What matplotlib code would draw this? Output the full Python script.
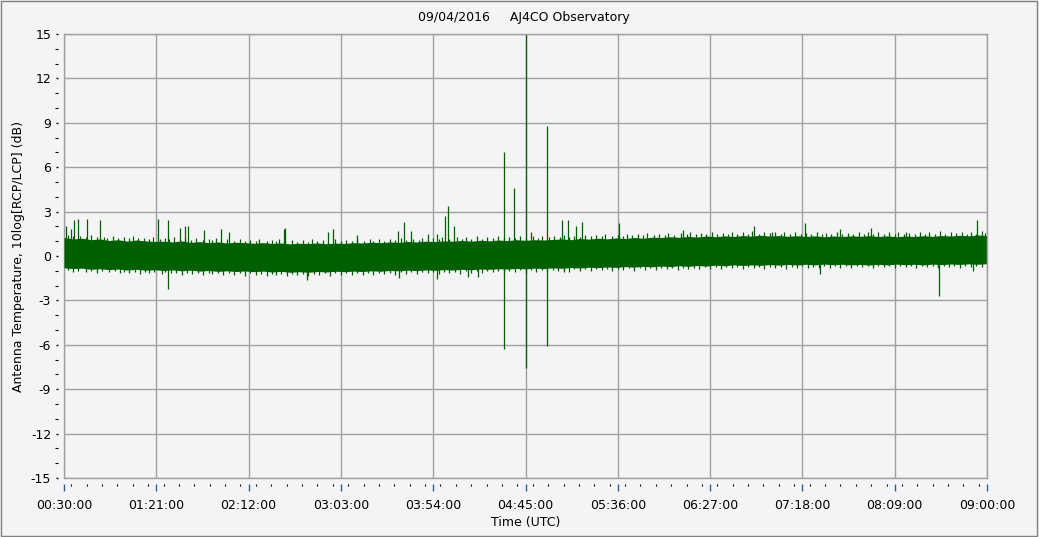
import matplotlib
matplotlib.use("Agg")
import matplotlib.pyplot as plt
from matplotlib.ticker import FuncFormatter, MultipleLocator
from matplotlib.patches import Rectangle
import numpy as np

# time in minutes after 00:00 UTC
band_t = [30, 35, 40, 45, 50, 55, 60, 65, 70, 75, 80,
          85, 90, 95, 100, 105, 110, 115, 120, 125, 130, 135,
          140, 145, 150, 155, 160, 165, 170, 175, 180, 185, 190,
          195, 200, 205, 210, 215, 220, 225, 230, 235, 240, 245,
          250, 255, 260, 265, 270, 275, 280, 285, 290, 295, 300,
          305, 310, 315, 320, 325, 330, 335, 340, 345, 350, 355,
          360, 365, 370, 375, 380, 385, 390, 395, 400, 405, 410,
          415, 420, 425, 430, 435, 440, 445, 450, 455, 460, 465,
          470, 475, 480, 485, 490, 495, 500, 505, 510, 515, 520,
          525, 530, 535, 540]
band_hi = [1.25, 1.15, 1.2, 1.1, 1.15, 1.05, 1.1, 1.0, 1.08, 1.02, 0.98,
           1.0, 0.95, 1.02, 0.92, 0.97, 0.9, 0.95, 0.88, 0.93, 0.9, 0.86,
           0.9, 0.85, 0.88, 0.82, 0.86, 0.84, 0.88, 0.83, 0.87, 0.85, 0.9,
           0.88, 0.93, 0.9, 0.95, 0.92, 0.98, 0.95, 1.0, 0.97, 1.02, 1.0,
           1.05, 1.0, 1.06, 1.02, 1.08, 1.04, 1.1, 1.06, 1.1, 1.08, 1.12,
           1.15, 1.1, 1.18, 1.14, 1.2, 1.16, 1.22, 1.18, 1.25, 1.2, 1.27,
           1.25, 1.3, 1.26, 1.32, 1.28, 1.35, 1.3, 1.36, 1.32, 1.38, 1.34,
           1.4, 1.35, 1.38, 1.33, 1.37, 1.32, 1.36, 1.3, 1.35, 1.32, 1.36,
           1.33, 1.37, 1.32, 1.36, 1.3, 1.35, 1.32, 1.37, 1.33, 1.38, 1.35,
           1.4, 1.36, 1.42, 1.38]
band_lo = [-0.8, -0.85, -0.82, -0.9, -0.86, -0.92, -0.88, -0.95, -0.9, -0.96, -0.93,
           -0.98, -0.94, -1.0, -0.96, -1.02, -0.98, -1.04, -1.0, -1.05, -1.01, -1.06,
           -1.02, -1.08, -1.04, -1.1, -1.06, -1.1, -1.05, -1.08, -1.03, -1.06, -1.02,
           -1.05, -1.0, -1.03, -0.98, -1.0, -0.96, -0.99, -0.94, -0.97, -0.92, -0.95,
           -0.9, -0.93, -0.88, -0.9, -0.86, -0.88, -0.84, -0.87, -0.82, -0.85, -0.8,
           -0.83, -0.78, -0.81, -0.76, -0.79, -0.74, -0.77, -0.72, -0.75, -0.7, -0.73,
           -0.68, -0.72, -0.66, -0.7, -0.64, -0.68, -0.62, -0.66, -0.6, -0.64, -0.6,
           -0.63, -0.58, -0.62, -0.57, -0.61, -0.56, -0.6, -0.55, -0.59, -0.56, -0.6,
           -0.57, -0.61, -0.56, -0.6, -0.55, -0.59, -0.56, -0.6, -0.55, -0.58, -0.54,
           -0.57, -0.53, -0.56, -0.52]

# small noise peaks along the edges of the band
edge_up_t = [32, 39, 45, 52, 57, 63, 68, 74, 79, 86, 91, 97, 103, 110, 114, 120,
             127, 133, 138, 145, 149, 156, 162, 167, 173, 180, 186, 192, 199, 204,
             210, 216, 223, 228, 234, 239, 247, 252, 258, 264, 270, 276, 282, 289,
             294, 301, 306, 312, 318, 324, 329, 336, 341, 347, 352, 359, 364, 371,
             376, 382, 388, 394, 399, 405, 410, 417, 423, 428, 434, 440, 446, 451,
             457, 463, 469, 474, 480, 486, 491, 497, 503, 508, 514, 520, 526, 531, 537]
edge_up_v = [1.45, 1.35, 1.4, 1.3, 1.35, 1.28, 1.32, 1.25, 1.3, 1.22, 1.27, 1.2,
             1.25, 1.15, 1.2, 1.12, 1.18, 1.1, 1.15, 1.08, 1.13, 1.1, 1.06, 1.12,
             1.08, 1.14, 1.1, 1.16, 1.12, 1.18, 1.15, 1.22, 1.18, 1.25, 1.22, 1.28,
             1.3, 1.26, 1.32, 1.28, 1.35, 1.3, 1.36, 1.33, 1.38, 1.35, 1.42, 1.38,
             1.45, 1.42, 1.48, 1.45, 1.52, 1.48, 1.55, 1.5, 1.58, 1.54, 1.6, 1.56,
             1.62, 1.58, 1.64, 1.6, 1.66, 1.62, 1.65, 1.6, 1.64, 1.58, 1.62, 1.57,
             1.63, 1.58, 1.64, 1.6, 1.65, 1.6, 1.64, 1.58, 1.63, 1.6, 1.66, 1.6,
             1.65, 1.62, 1.68]
edge_up2_t = [35, 42, 48, 54, 60, 66, 71, 77, 83, 88,
              94, 100, 107, 112, 117, 124, 130, 136, 142, 147,
              152, 159, 165, 170, 176, 183, 189, 196, 201, 207,
              213, 219, 226, 231, 237, 243, 250, 255, 261, 267,
              273, 279, 285, 292, 298, 304, 309, 315, 321, 327,
              333, 339, 344, 350, 356, 362, 367, 374, 379, 385,
              391, 397, 402, 408, 414, 420, 426, 431, 437, 443,
              449, 454, 460, 466, 472, 477, 483, 489, 494, 500,
              506, 511, 517, 523, 529, 534, 539]
edge_up2_v = [1.35, 1.3, 1.28, 1.25, 1.22, 1.2, 1.2, 1.15, 1.16, 1.12,
              1.12, 1.1, 1.08, 1.05, 1.06, 1.02, 1.03, 1.0, 0.99, 0.98,
              0.98, 0.97, 0.96, 0.98, 0.97, 0.99, 0.98, 1.0, 1.02, 1.03,
              1.05, 1.06, 1.08, 1.1, 1.12, 1.13, 1.15, 1.16, 1.18, 1.2,
              1.21, 1.22, 1.24, 1.25, 1.27, 1.28, 1.3, 1.31, 1.33, 1.34,
              1.36, 1.37, 1.39, 1.4, 1.42, 1.43, 1.45, 1.46, 1.48, 1.48,
              1.5, 1.5, 1.51, 1.52, 1.52, 1.53, 1.5, 1.52, 1.5, 1.51,
              1.49, 1.5, 1.5, 1.52, 1.5, 1.51, 1.5, 1.52, 1.5, 1.51,
              1.5, 1.52, 1.5, 1.53, 1.51, 1.52, 1.54]
edge_dn_t = [35, 42, 48, 55, 61, 66, 72, 77, 84, 89, 95, 101, 107, 112, 118, 124,
             130, 136, 142, 147, 153, 159, 165, 171, 177, 183, 189, 195, 201, 207,
             213, 219, 225, 231, 237, 243, 249, 255, 261, 267, 273, 279, 285, 291,
             297, 303, 309, 315, 321, 327, 333, 339, 345, 351, 357, 363, 369, 375,
             381, 387, 393, 399, 405, 411, 417, 423, 429, 435, 441, 447, 453, 459,
             465, 471, 477, 483, 489, 495, 501, 507, 513, 519, 525, 531, 537]
edge_dn_v = [-1.1, -1.05, -1.15, -1.1, -1.18, -1.12, -1.2, -1.15, -1.22, -1.18,
             -1.25, -1.2, -1.28, -1.22, -1.3, -1.25, -1.32, -1.27, -1.33, -1.28,
             -1.35, -1.3, -1.33, -1.28, -1.32, -1.27, -1.3, -1.25, -1.28, -1.22,
             -1.26, -1.2, -1.24, -1.18, -1.22, -1.16, -1.2, -1.14, -1.18, -1.1,
             -1.14, -1.08, -1.12, -1.05, -1.09, -1.02, -1.06, -1.0, -1.04, -0.97,
             -1.0, -0.94, -0.98, -0.92, -0.95, -0.9, -0.93, -0.87, -0.91, -0.85,
             -0.89, -0.84, -0.88, -0.82, -0.86, -0.8, -0.85, -0.79, -0.84, -0.8,
             -0.83, -0.78, -0.82, -0.77, -0.81, -0.76, -0.8, -0.75, -0.8, -0.76,
             -0.79, -0.74, -0.78, -0.73, -0.77]
edge_dn2_t = [32, 38, 45, 51, 58, 63, 69, 75, 80, 86,
              92, 98, 104, 110, 115, 121, 127, 133, 139, 145,
              150, 156, 162, 168, 174, 180, 186, 192, 198, 204,
              210, 216, 222, 228, 234, 240, 246, 252, 258, 264,
              270, 276, 282, 288, 294, 300, 306, 312, 318, 324,
              330, 336, 342, 348, 354, 360, 366, 372, 378, 384,
              390, 396, 402, 408, 414, 420, 426, 432, 438, 444,
              450, 456, 462, 468, 474, 480, 486, 492, 498, 504,
              510, 516, 522, 528, 534]
edge_dn2_v = [-0.95, -0.98, -1.0, -1.02, -1.04, -1.05, -1.06, -1.08, -1.1, -1.1,
              -1.12, -1.13, -1.14, -1.15, -1.16, -1.17, -1.18, -1.18, -1.19, -1.2,
              -1.2, -1.2, -1.19, -1.19, -1.18, -1.17, -1.16, -1.15, -1.14, -1.13,
              -1.12, -1.11, -1.1, -1.09, -1.08, -1.07, -1.05, -1.04, -1.02, -1.0,
              -0.99, -0.98, -0.97, -0.95, -0.94, -0.93, -0.92, -0.9, -0.89, -0.88,
              -0.86, -0.85, -0.84, -0.83, -0.82, -0.81, -0.8, -0.79, -0.78, -0.77,
              -0.76, -0.75, -0.74, -0.74, -0.73, -0.72, -0.72, -0.71, -0.7, -0.71,
              -0.7, -0.69, -0.7, -0.69, -0.68, -0.69, -0.68, -0.67, -0.68, -0.67,
              -0.66, -0.67, -0.66, -0.65, -0.66]

# distinct spikes (time, peak)
spike_up_t = [31.1, 33.7, 35.5, 37.9, 42.9, 49.9, 82.1, 87.6, 94.1, 96.8, 98.7,
              107.4, 116.8, 121, 151.6, 152.1, 175.7, 178.6, 191.7, 214.5, 217.9,
              221.7, 231, 236, 240.7, 242.4, 245.7, 273, 278.5, 285, 288.2, 297,
              305, 308.6, 313, 316, 336.8, 372, 411, 421, 439.2, 458.5, 476,
              495.4, 534.2]
spike_up_v = [2.0, 1.8, 2.4, 2.5, 2.5, 2.4, 2.5, 2.4, 1.9, 2.0, 2.0,
              1.75, 1.8, 1.6, 1.8, 1.9, 1.6, 1.8, 1.4, 1.7, 2.3,
              1.7, 1.5, 1.5, 2.7, 3.4, 2.0, 7.0, 4.6, 16.0, 1.6, 8.8,
              2.4, 2.4, 2.0, 2.3, 2.25, 1.75, 2.05, 1.6, 2.2, 1.8, 1.9,
              1.65, 2.4]
spike_dn_t = [87.6, 164, 215, 236, 253, 259, 273, 285, 297, 306, 447.5, 513.4, 532]
spike_dn_v = [-2.2, -1.6, -1.5, -1.55, -1.4, -1.45, -6.3, -7.6, -6.1, -1.05, -1.2, -2.7, -1.0]

xticks = [30, 81, 132, 183, 234, 285, 336, 387, 438, 489, 540]

green = "#005f00"
bg = "#f4f4f6"
grid = "#a0a0a0"

fig = plt.figure(figsize=(10.39, 5.37), dpi=100, facecolor=bg)
ax = fig.add_axes([64 / 1039, 1 - 478 / 537, 923 / 1039, 444 / 537])
ax.set_facecolor(bg)

ax.fill_between(band_t, band_lo, band_hi, color=green, lw=0)
for tt, vv in [(edge_up_t, edge_up_v), (edge_up2_t, edge_up2_v),
               (edge_dn_t, edge_dn_v), (edge_dn2_t, edge_dn2_v),
               (spike_up_t, spike_up_v), (spike_dn_t, spike_dn_v)]:
    ax.vlines(tt, 0, vv, color=green, lw=0.9)

ax.set_xlim(30, 540)
ax.set_ylim(-15, 15)
ax.set_xticks(xticks)
ax.xaxis.set_minor_locator(MultipleLocator(8.5))
ax.yaxis.set_major_locator(MultipleLocator(3))
ax.yaxis.set_minor_locator(MultipleLocator(1))
ax.xaxis.set_major_formatter(FuncFormatter(
    lambda v, p: "%02d:%02d:00" % (int(round(v)) // 60, int(round(v)) % 60)))
ax.yaxis.set_major_formatter(FuncFormatter(lambda v, p: "%d" % v))

ax.grid(True, which="major", color=grid, lw=1)
ax.set_axisbelow(True)
for s in ["top", "right"]:
    ax.spines[s].set_color(grid)
    ax.spines[s].set_linewidth(1)
for s in ["left", "bottom"]:
    ax.spines[s].set_position(("outward", 4))
    ax.spines[s].set_visible(False)
ax.axvline(30, color=grid, lw=1, clip_on=False, zorder=0.5)
ax.axhline(-15, color=grid, lw=1, clip_on=False, zorder=0.5)

ax.tick_params(axis="y", which="major", length=1.2, width=1, color="black",
               labelsize=9, pad=4)
ax.tick_params(axis="y", which="minor", length=2.2, width=0.8, color="black")
ax.tick_params(axis="x", which="major", length=5, width=1, color="#3a5a98",
               labelsize=9, pad=6)
ax.tick_params(axis="x", which="minor", length=1.5, width=0.8, color="black")

ax.set_xlabel("Time (UTC)", fontsize=9, labelpad=3)
ax.set_ylabel("Antenna Temperature, 10log[RCP/LCP] (dB)", fontsize=9, labelpad=4)
fig.text(524 / 1039, 1 - 18 / 537, "09/04/2016     AJ4CO Observatory",
         fontsize=9, ha="center", va="center")

fig.patches.append(Rectangle((0.0005, 0.001), 0.998, 0.997, transform=fig.transFigure,
                             fill=False, edgecolor="#808080", lw=1))

fig.savefig("out.png", dpi=100, facecolor=bg)
